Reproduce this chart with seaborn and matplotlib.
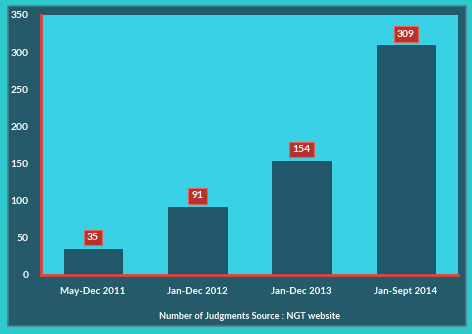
import matplotlib
matplotlib.use("Agg")
import matplotlib.pyplot as plt
import seaborn as sns
import pandas as pd
from matplotlib.patches import Rectangle

categories = ["May-Dec 2011", "Jan-Dec 2012", "Jan-Dec 2013", "Jan-Sept 2014"]
values = [35, 91, 154, 309]
yticks = [0, 50, 100, 150, 200, 250, 300, 350]
xlabel = "Number of Judgments Source : NGT website"

sns.set_theme(style="white")
plt.rcParams['font.family'] = ['Lato', 'DejaVu Sans']

outer = "#2ec9cc"
panel = "#245a69"
inner = "#38d1e5"
barc = "#22576a"
red = "#e2433a"

fig = plt.figure(figsize=(4.72, 3.34), dpi=100)
fig.patch.set_facecolor(outer)
fig.patches.append(Rectangle((8/472, 8/334), 458/472, 320/334, transform=fig.transFigure,
                             facecolor=panel, edgecolor="#4a7f8c", linewidth=1.2, zorder=-10))

ax = fig.add_axes([41/472, 59/334, 417/472, 260/334])
ax.set_zorder(1)
ax.set_facecolor(inner)
df = pd.DataFrame({"cat": categories, "val": values})
sns.barplot(data=df, x="cat", y="val", color=barc, width=0.56, saturation=1, ax=ax,
            edgecolor="#1d4d5c", linewidth=0.6)
ax.set_xlim(-0.5, 3.5)
ax.set_ylim(0, 350)
ax.set_yticks(yticks)
ax.set_yticklabels([str(t) for t in yticks], color="white", fontsize=7.5, fontweight="bold")
ax.set_xticks(range(len(categories)))
ax.set_xticklabels(categories, color="white", fontsize=7, fontweight="bold")
ax.tick_params(axis="x", length=0, pad=9)
ax.tick_params(axis="y", length=0, pad=9)
ax.set_ylabel("")
ax.set_xlabel(xlabel, color="white", fontsize=6.6, fontweight="bold", labelpad=11)
for s in ["top", "right"]:
    ax.spines[s].set_visible(False)
for s in ["left", "bottom"]:
    ax.spines[s].set_color(red)
    ax.spines[s].set_linewidth(2)

for i, v in enumerate(values):
    ax.annotate(str(v), xy=(i, v), xytext=(0, 5), textcoords="offset points",
                ha="center", va="bottom", color="white", fontsize=7.5, fontweight="bold",
                bbox=dict(boxstyle="square,pad=0.3", facecolor="#b5332c", edgecolor="#e0645a", linewidth=0.8))

fig.savefig("out.png", dpi=100, facecolor=fig.get_facecolor())
